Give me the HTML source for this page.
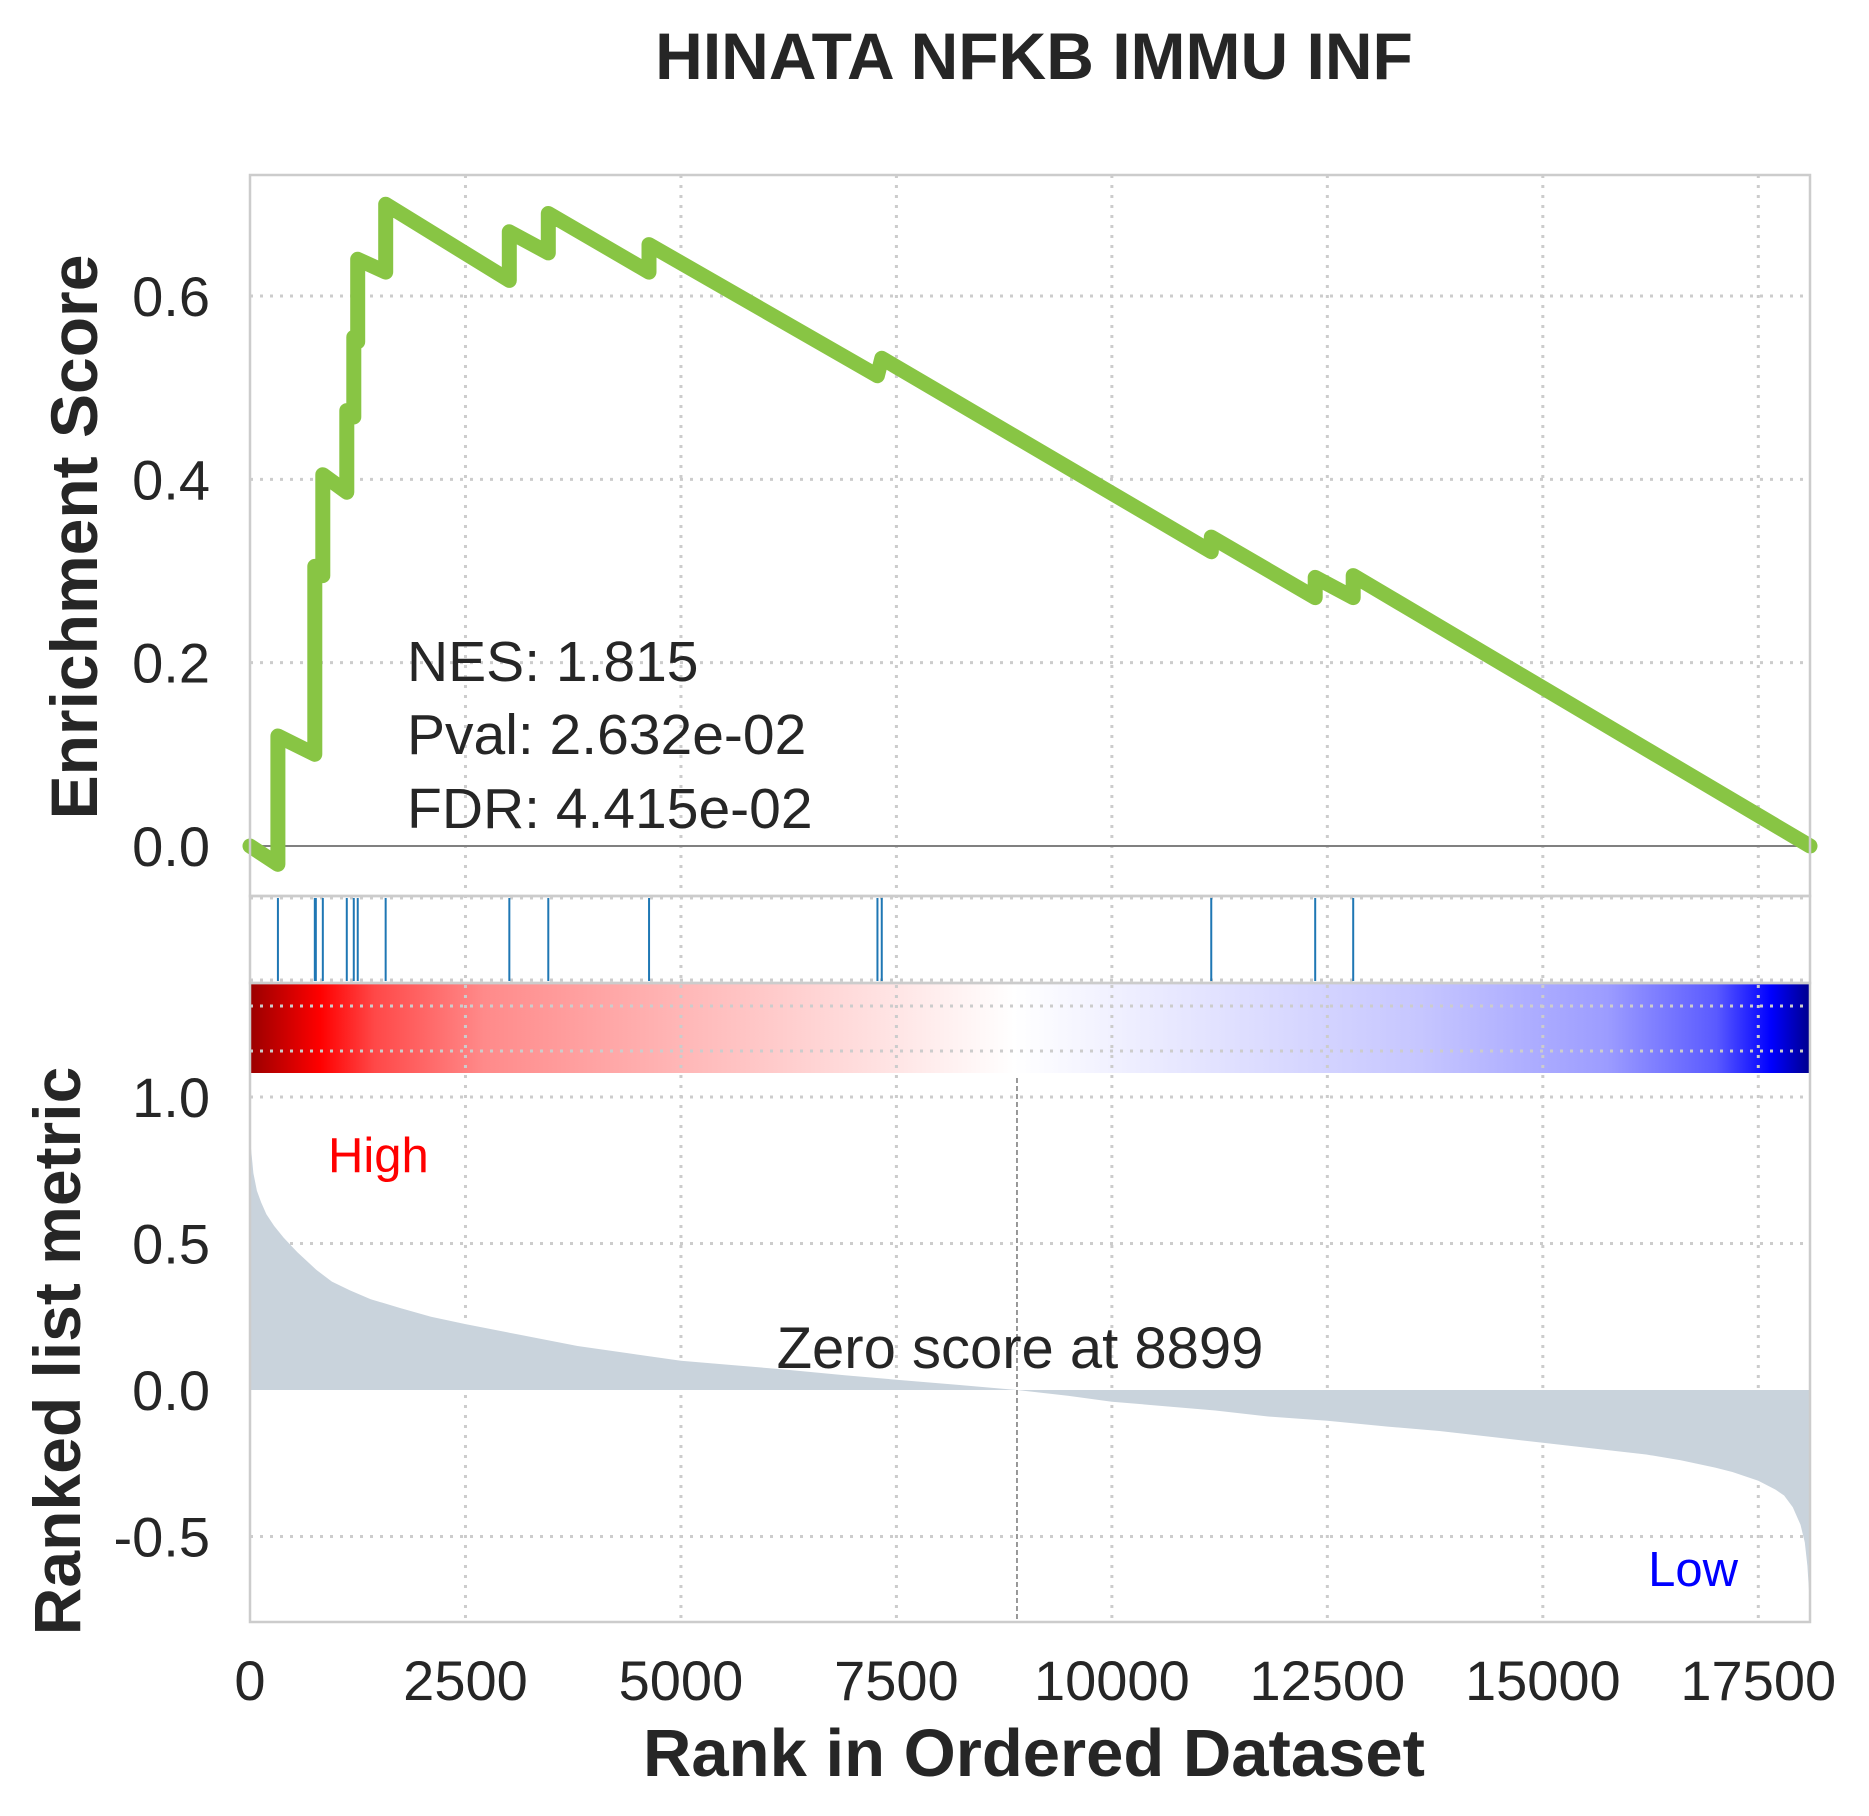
<!DOCTYPE html>
<html><head><meta charset="utf-8">
<style>
html,body{margin:0;padding:0;background:#fff;}
svg{display:block;font-family:"Liberation Sans",Arial,sans-serif;}
</style></head>
<body>
<svg id="chart" width="1869" height="1816" viewBox="0 0 1869 1816" xmlns="http://www.w3.org/2000/svg">
<defs>
<linearGradient id="cbar" x1="0" x2="1" y1="0" y2="0">
<stop offset="0" stop-color="#9a0000"/>
<stop offset="0.045" stop-color="#ff0000"/>
<stop offset="0.08" stop-color="#ff4848"/>
<stop offset="0.15" stop-color="#ff8a8a"/>
<stop offset="0.28" stop-color="#ffb8b8"/>
<stop offset="0.40" stop-color="#ffe0e0"/>
<stop offset="0.49" stop-color="#ffffff"/>
<stop offset="0.6" stop-color="#e6e6ff"/>
<stop offset="0.75" stop-color="#c6c6ff"/>
<stop offset="0.87" stop-color="#9c9cff"/>
<stop offset="0.94" stop-color="#5a5aff"/>
<stop offset="0.975" stop-color="#0000ff"/>
<stop offset="1" stop-color="#00008c"/>
</linearGradient>
</defs>
<g id="root"></g>
</svg>
<script>
// ---- data ----
const xMax = 18100;
const xTicks = [0, 2500, 5000, 7500, 10000, 12500, 15000, 17500];
const xTickLabels = ["0","2500","5000","7500","10000","12500","15000","17500"];
const esTicks = [0.0, 0.2, 0.4, 0.6];
const esTickLabels = ["0.0","0.2","0.4","0.6"];
const rankTicks = [1.0, 0.5, 0.0, -0.5];
const rankTickLabels = ["1.0","0.5","0.0","-0.5"];
const hitRanks = [324, 752, 764, 845, 1123, 1204, 1250, 1574, 3009, 3461, 4630, 7280, 7330, 11153, 12359, 12800];
const esRanks = [0, 324, 324, 752, 752, 845, 845, 1123, 1123, 1204, 1204, 1250, 1250, 1574, 1574, 3009, 3009, 3461, 3461, 4630, 4630, 7280, 7330, 11153, 11153, 12359, 12359, 12800, 12800, 18100];
const esValues = [0.0, -0.02, 0.12, 0.10, 0.305, 0.295, 0.405, 0.386, 0.475, 0.468, 0.555, 0.55, 0.64, 0.626, 0.70, 0.617, 0.67, 0.647, 0.69, 0.626, 0.656, 0.513, 0.532, 0.321, 0.337, 0.271, 0.293, 0.271, 0.295, 0.0];
const metricRanks = [0, 20, 40, 80, 130, 190, 280, 390, 550, 770, 950, 1160, 1400, 1740, 2100, 2500, 3100, 3800, 4400, 5000, 5600, 6200, 6900, 7500, 8200, 8899, 9500, 10000, 10600, 11200, 11800, 12500, 13200, 13800, 14400, 15000, 15600, 16200, 16600, 17000, 17200, 17500, 17700, 17800, 17900, 17990, 18040, 18070, 18100];
const metricValues = [0.86, 0.8, 0.74, 0.68, 0.64, 0.6, 0.56, 0.52, 0.47, 0.41, 0.37, 0.34, 0.31, 0.28, 0.25, 0.225, 0.19, 0.15, 0.125, 0.10, 0.085, 0.07, 0.05, 0.035, 0.018, 0.0, -0.02, -0.04, -0.055, -0.07, -0.09, -0.105, -0.125, -0.14, -0.16, -0.18, -0.20, -0.22, -0.24, -0.265, -0.28, -0.31, -0.34, -0.36, -0.40, -0.46, -0.52, -0.6, -0.74];
const zeroRank = 8899;

// ---- layout ----
const L = 250, R = 1810;
const topT = 175, topB = 896, hitB = 983, lowB = 1622;
const sx = v => L + v / xMax * (R - L);
const syES = v => 846 - v * 916.7;
const syRM = v => 1390 - v * 293;

const NS = "http://www.w3.org/2000/svg";
const root = document.getElementById("root");
function mk(tag, attrs, parent, text) {
  const e = document.createElementNS(NS, tag);
  for (const k in attrs) e.setAttribute(k, attrs[k]);
  if (text !== undefined) e.textContent = text;
  (parent || root).appendChild(e);
  return e;
}
const gridStyle = {stroke: "#cccccc", "stroke-width": 3, "stroke-dasharray": "3 7"};

const cb = mk("rect", {x: L, y: hitB, width: R - L, height: 90, fill: "url(#cbar)"});



xTicks.forEach((t, i) => {
  if (t === 0) return;
  const g = mk("line", Object.assign({x1: sx(t), x2: sx(t), y1: topT, y2: lowB}, gridStyle));
  
  
});
esTicks.forEach(t => {
  if (t === 0) return;
  const g = mk("line", Object.assign({x1: L, x2: R, y1: syES(t), y2: syES(t)}, gridStyle));
  
  
});
[898, 980].forEach(y => {
  const g = mk("line", Object.assign({x1: L, x2: R, y1: y, y2: y}, gridStyle));
  
  
});
[1006, 1051].concat(rankTicks.map(syRM)).forEach(y => {
  if (Math.abs(y - 1390) < 1) return;
  const g = mk("line", Object.assign({x1: L, x2: R, y1: y, y2: y}, gridStyle));
  
  
});

let d = "M" + sx(metricRanks[0]) + "," + syRM(0);
metricRanks.forEach((r, i) => { d += " L" + sx(r).toFixed(1) + "," + syRM(metricValues[i]).toFixed(1); });
d += " L" + sx(metricRanks[metricRanks.length - 1]) + "," + syRM(0) + " Z";
const area = mk("path", {d: d, fill: "#c9d3dc"});



const zl = mk("line", {x1: sx(zeroRank), x2: sx(zeroRank), y1: 1078, y2: lowB, stroke: "#777", "stroke-width": 1.5, "stroke-dasharray": "5 3"});



const ez = mk("line", {x1: L, x2: R, y1: syES(0), y2: syES(0), stroke: "#808080", "stroke-width": 2});



hitRanks.forEach(r => {
  const h = mk("line", {x1: sx(r), x2: sx(r), y1: topB + 2, y2: hitB - 2, stroke: "#1f77b4", "stroke-width": 2});
  
  
});

const pts = esRanks.map((r, i) => sx(r).toFixed(1) + "," + syES(esValues[i]).toFixed(1)).join(" ");
const es = mk("polyline", {points: pts, fill: "none", stroke: "#88c544", "stroke-width": 15, "stroke-linejoin": "round", "stroke-linecap": "round"});



[[topT, topB, 'es-panel-frame'], [topB, hitB, 'hits-panel-frame'], [hitB, lowB, 'rank-panel-frame']].forEach(f => {
  const r = mk("rect", {x: L, y: f[0], width: R - L, height: f[1] - f[0], fill: "none", stroke: "#cccccc", "stroke-width": 2.5});
  
  
});

const tickStyle = {"font-size": 56, fill: "#262626"};
xTicks.forEach((t, i) => {
  const e = mk("text", Object.assign({x: sx(t), y: 1700, "text-anchor": "middle"}, tickStyle), root, xTickLabels[i]);
  
  
});
esTicks.forEach((t, i) => {
  const e = mk("text", Object.assign({x: 210, y: syES(t) + 20, "text-anchor": "end"}, tickStyle), root, esTickLabels[i]);
  
  
});
rankTicks.forEach((t, i) => {
  const e = mk("text", Object.assign({x: 210, y: syRM(t) + 20, "text-anchor": "end"}, tickStyle), root, rankTickLabels[i]);
  
  
});

let e;
e = mk("text", {x: 1034, y: 79, "text-anchor": "middle", "font-size": 66, "font-weight": "bold", fill: "#262626"}, root, "HINATA NFKB IMMU INF");
 
e = mk("text", {x: 1034, y: 1776, "text-anchor": "middle", "font-size": 67, "font-weight": "bold", fill: "#262626"}, root, "Rank in Ordered Dataset");
 
e = mk("text", {x: 0, y: 0, "text-anchor": "middle", "font-size": 66, "font-weight": "bold", fill: "#262626", transform: "translate(97,537) rotate(-90)"}, root, "Enrichment Score");
 
e = mk("text", {x: 0, y: 0, "text-anchor": "middle", "font-size": 66, "font-weight": "bold", fill: "#262626", transform: "translate(80,1351) rotate(-90)"}, root, "Ranked list metric");
 

[["NES: 1.815", 681, 'nes-label'], ["Pval: 2.632e-02", 754, 'pval-label'], ["FDR: 4.415e-02", 828, 'fdr-label']].forEach(a => {
  const t = mk("text", {x: 407, y: a[1], "font-size": 57, fill: "#262626"}, root, a[0]);
  
  
});
e = mk("text", {x: 1020, y: 1368, "text-anchor": "middle", "font-size": 58, fill: "#262626"}, root, "Zero score at " + zeroRank);
 
e = mk("text", {x: 328, y: 1172, "font-size": 49, fill: "#ff0000"}, root, "High");
 
e = mk("text", {x: 1738, y: 1586, "text-anchor": "end", "font-size": 49, fill: "#0000ff"}, root, "Low");
 
</script>
</body></html>
